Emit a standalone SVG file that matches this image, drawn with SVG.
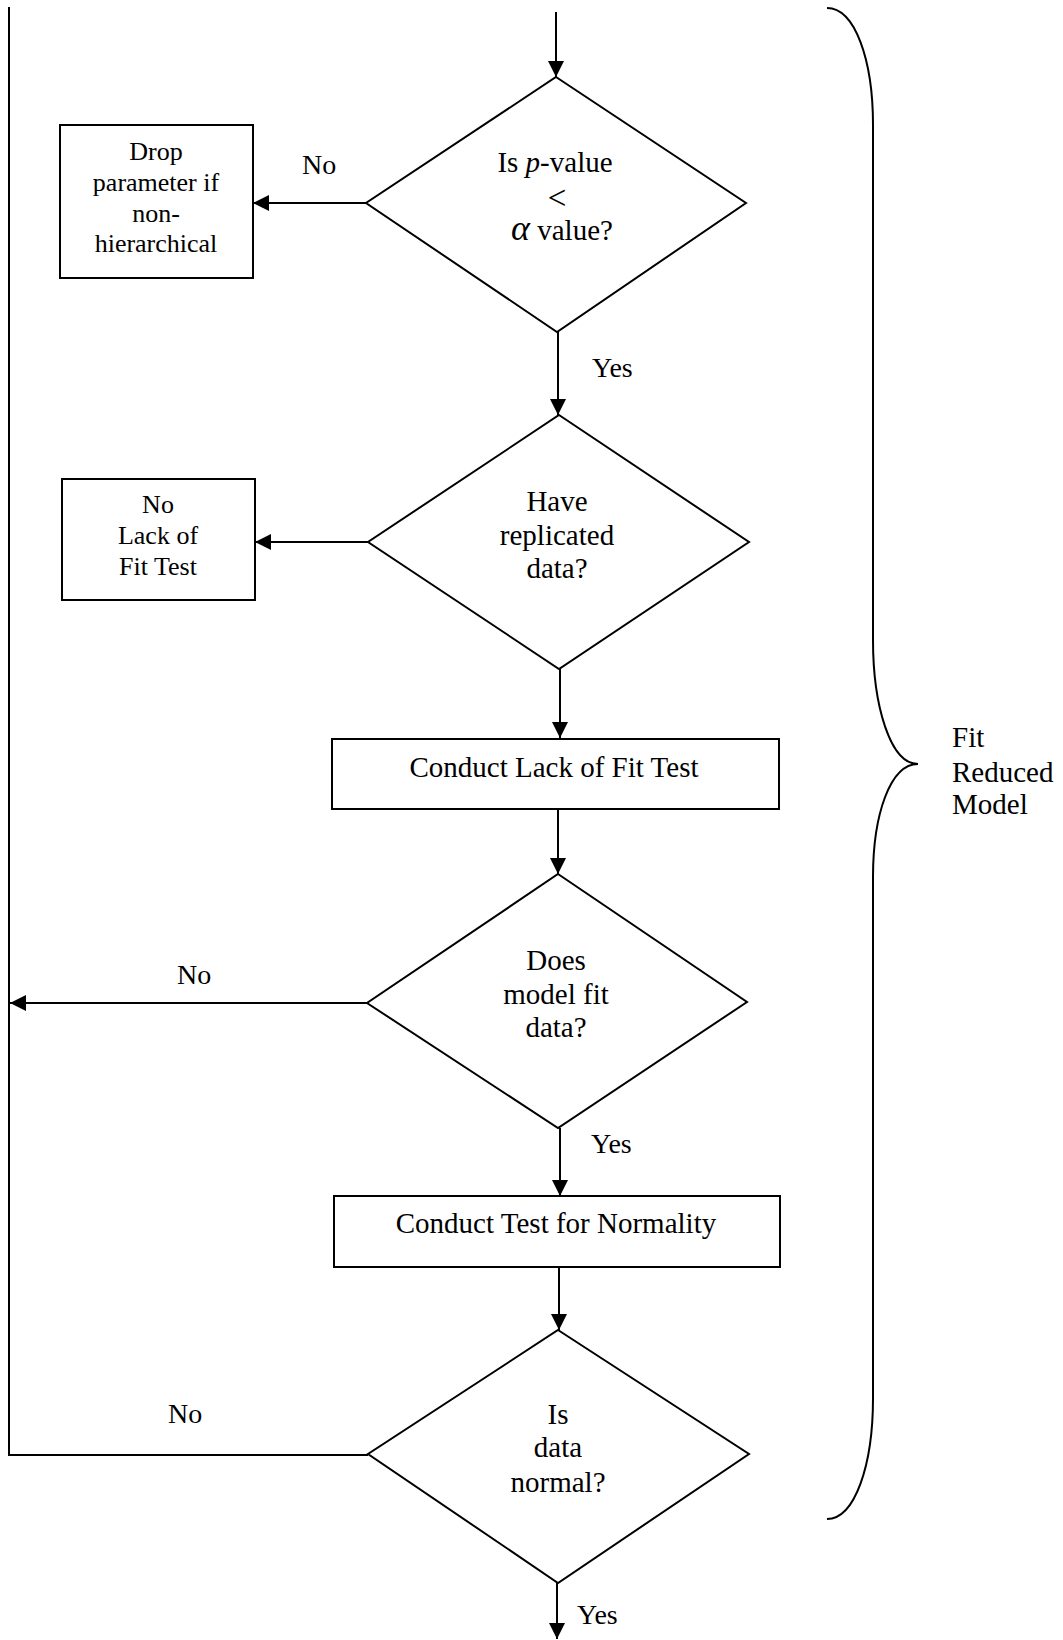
<svg xmlns="http://www.w3.org/2000/svg" width="1063" height="1640" viewBox="0 0 1063 1640">
  <style>
    .shape { fill: #fff; stroke: #000; stroke-width: 2; }
    .wire { fill: none; stroke: #000; stroke-width: 2; }
    .t { font-family: "Liberation Serif", "Times New Roman", serif; font-size: 29px; fill: #000; text-anchor: middle; }
    .s { font-size: 26px; }
    .lt { font-size: 33px; }
    .big { font-size: 36px; }
    .lbl { font-family: "Liberation Serif", "Times New Roman", serif; font-size: 28px; fill: #000; }
    .side { font-family: "Liberation Serif", "Times New Roman", serif; font-size: 29px; fill: #000; }
  </style>
  <defs>
    <marker id="arrow" markerUnits="userSpaceOnUse" markerWidth="16" markerHeight="16" viewBox="0 0 14 14" refX="14" refY="7" orient="auto">
      <path d="M0,0 L14,7 L0,14 Z" fill="#000"/>
    </marker>
  </defs>
  <rect width="1063" height="1640" fill="#fff"/>

  <!-- connectors -->
  <g id="connectors">
    <line class="wire" x1="556" y1="12" x2="556" y2="77" marker-end="url(#arrow)"/>
    <line class="wire" x1="366" y1="203" x2="253" y2="203" marker-end="url(#arrow)"/>
    <line class="wire" x1="558" y1="332" x2="558" y2="415" marker-end="url(#arrow)"/>
    <line class="wire" x1="368" y1="542" x2="255" y2="542" marker-end="url(#arrow)"/>
    <line class="wire" x1="560" y1="669" x2="560" y2="738" marker-end="url(#arrow)"/>
    <line class="wire" x1="558" y1="809" x2="558" y2="874" marker-end="url(#arrow)"/>
    <line class="wire" x1="367" y1="1003" x2="10" y2="1003" marker-end="url(#arrow)"/>
    <line class="wire" x1="560" y1="1128" x2="560" y2="1196" marker-end="url(#arrow)"/>
    <line class="wire" x1="559" y1="1267" x2="559" y2="1330" marker-end="url(#arrow)"/>
    <line class="wire" x1="557" y1="1583" x2="557" y2="1639" marker-end="url(#arrow)"/>
    <polyline class="wire" points="368,1455 9,1455 9,7"/>

    <text class="lbl" x="302" y="174">No</text>
    <text class="lbl" x="592" y="377">Yes</text>
    <text class="lbl" x="177" y="984">No</text>
    <text class="lbl" x="591" y="1153">Yes</text>
    <text class="lbl" x="168" y="1423">No</text>
    <text class="lbl" x="577" y="1624">Yes</text>
  </g>

  <!-- decision: p-value -->
  <g id="pvalue-check">
    <polygon class="shape" points="556,77 746,203 557,332 366,203"/>
    <text class="t" x="555" y="172">Is <tspan font-style="italic">p</tspan>-value</text>
    <text class="t lt" x="557" y="209">&lt;</text>
    <text class="t" x="562" y="240"><tspan class="big" font-style="italic">α</tspan> value?</text>
  </g>

  <!-- drop parameter -->
  <g id="drop-parameter">
    <rect class="shape" x="60" y="125" width="193" height="153"/>
    <text class="t s" x="156" y="160">Drop</text>
    <text class="t s" x="156" y="191">parameter if</text>
    <text class="t s" x="156" y="222">non-</text>
    <text class="t s" x="156" y="252">hierarchical</text>
  </g>

  <!-- decision: replicated data -->
  <g id="replicated-check">
    <polygon class="shape" points="559,415 749,542 559,669 368,542"/>
    <text class="t" x="557" y="511">Have</text>
    <text class="t" x="557" y="545">replicated</text>
    <text class="t" x="557" y="578">data?</text>
  </g>

  <!-- no lack of fit test -->
  <g id="no-lof-test">
    <rect class="shape" x="62" y="479" width="193" height="121"/>
    <text class="t s" x="158" y="513">No</text>
    <text class="t s" x="158" y="544">Lack of</text>
    <text class="t s" x="158" y="575">Fit Test</text>
  </g>

  <!-- lack of fit test -->
  <g id="lof-test">
    <rect class="shape" x="332" y="739" width="447" height="70"/>
    <text class="t" x="554" y="777">Conduct Lack of Fit Test</text>
  </g>

  <!-- decision: model fit -->
  <g id="fit-check">
    <polygon class="shape" points="558,874 747,1002 558,1128 367,1003"/>
    <text class="t" x="556" y="970">Does</text>
    <text class="t" x="556" y="1004">model fit</text>
    <text class="t" x="556" y="1037">data?</text>
  </g>

  <!-- normality test -->
  <g id="normality-test">
    <rect class="shape" x="334" y="1196" width="446" height="71"/>
    <text class="t" x="556" y="1233">Conduct Test for Normality</text>
  </g>

  <!-- decision: normal data -->
  <g id="normal-check">
    <polygon class="shape" points="558,1330 749,1454 558,1583 368,1454"/>
    <text class="t" x="558" y="1424">Is</text>
    <text class="t" x="558" y="1457">data</text>
    <text class="t" x="558" y="1492">normal?</text>
  </g>

  <!-- brace grouping the reduced-model steps -->
  <g id="fit-reduced-model">
    <path class="wire" d="M827,8 C855,8 873,60 873,125 L873,640 C873,705 890,764 918,764 C890,764 873,815 873,877 L873,1398 C873,1465 855,1519 827,1519"/>
    <text class="side" x="952" y="747">Fit</text>
    <text class="side" x="952" y="782">Reduced</text>
    <text class="side" x="952" y="814">Model</text>
  </g>
</svg>
